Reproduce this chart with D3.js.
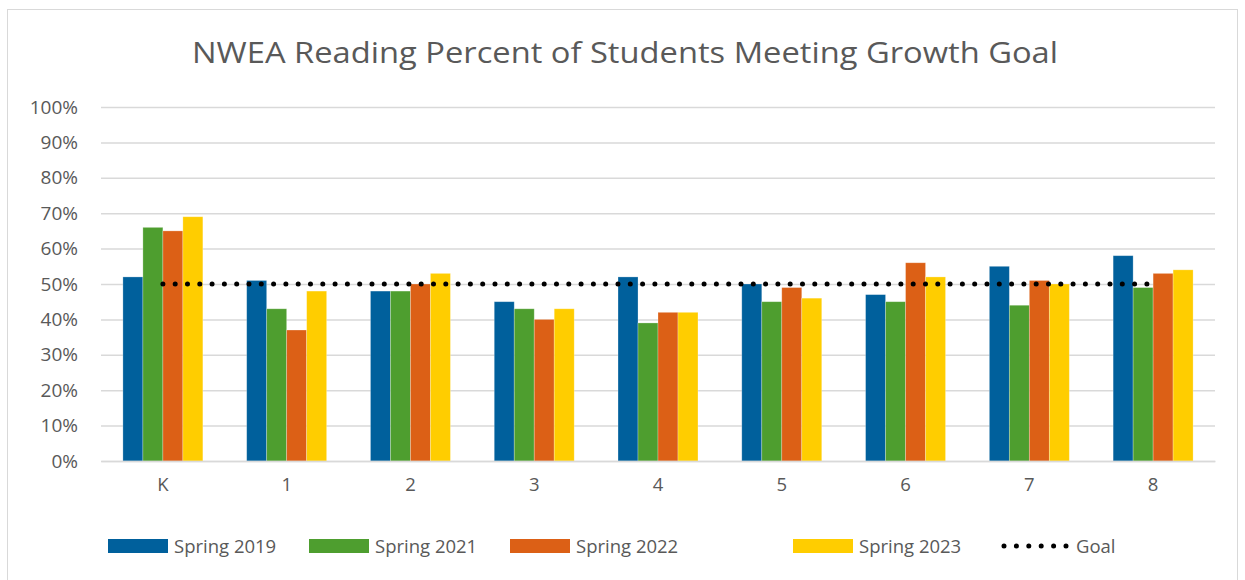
<!DOCTYPE html>
<html>
<head>
<meta charset="utf-8">
<script src="https://cdn.jsdelivr.net/npm/d3@7"></script>
<style>
	body { margin: 0; background: #fff; }
	text { font-family: "Open Sans", "Noto Sans", sans-serif; fill: #595959; }
</style>
</head>
<body>
<div id="chart"></div>
<script>

const grades = ["K", "1", "2", "3", "4", "5", "6", "7", "8"];
const seriesNames = ["Spring 2019", "Spring 2021", "Spring 2022", "Spring 2023"];
const spring2019 = [52, 51, 48, 45, 52, 50, 47, 55, 58];
const spring2021 = [66, 43, 48, 43, 39, 45, 45, 44, 49];
const spring2022 = [65, 37, 50, 40, 42, 49, 56, 51, 53];
const spring2023 = [69, 48, 53, 43, 42, 46, 52, 50, 54];
const goal = 50;
const yTicks = [0, 10, 20, 30, 40, 50, 60, 70, 80, 90, 100];

const colors = ["#00609c", "#4e9e2f", "#dc6016", "#ffcd00"];
const seriesValues = [spring2019, spring2021, spring2022, spring2023];

const width = 1245, height = 580;
const plot = { left: 101, right: 1215, top: 107, bottom: 461 };

const svg = d3.select("#chart")
		.append("svg")
		.attr("width", width)
		.attr("height", height);

// chart border
svg.append("rect")
		.attr("x", 7.5)
		.attr("y", 9.5)
		.attr("width", 1230)
		.attr("height", 620)
		.attr("fill", "none")
		.attr("stroke", "#d9d9d9")
		.attr("stroke-width", 1);

svg.append("text")
		.attr("x", 625)
		.attr("y", 63)
		.attr("text-anchor", "middle")
		.attr("font-size", 29.5)
		.attr("textLength", 866)
		.attr("lengthAdjust", "spacingAndGlyphs")
		.text("NWEA Reading Percent of Students Meeting Growth Goal");

const y = d3.scaleLinear()
		.domain([0, 100])
		.range([plot.bottom, plot.top]);

const x0 = d3.scaleBand()
		.domain(grades)
		.range([plot.left, plot.right])
		.paddingInner(0.354)
		.paddingOuter(0.177);

const x1 = d3.scaleBand()
		.domain(seriesNames)
		.range([0, x0.bandwidth()]);

// gridlines + y labels
const yAxis = svg.append("g")
		.attr("transform", "translate(" + plot.left + ",0)")
		.call(d3.axisLeft(y)
			.tickValues(yTicks)
			.tickSize(-(plot.right - plot.left))
			.tickPadding(23)
			.tickFormat((d) => d + "%"));

yAxis.select(".domain").remove();
yAxis.selectAll(".tick line")
		.attr("stroke", "#d9d9d9")
		.attr("stroke-width", 1.5);
yAxis.selectAll(".tick text")
		.attr("font-size", 19)
		.attr("fill", "#595959");

// bars
const groups = svg.append("g")
		.selectAll("g")
		.data(grades)
		.join("g")
		.attr("transform", (d) => "translate(" + x0(d) + ",0)");

groups.selectAll("rect")
		.data((d, i) => seriesNames.map((s, j) => ({ series: s, value: seriesValues[j][i], color: colors[j] })))
		.join("rect")
		.attr("x", (d) => x1(d.series))
		.attr("y", (d) => y(d.value))
		.attr("width", x1.bandwidth())
		.attr("height", (d) => y(0) - y(d.value))
		.attr("fill", (d) => d.color)
		.attr("stroke", "#ffffff")
		.attr("stroke-opacity", 0.35)
		.attr("stroke-width", 0.75);

// x axis
const xAxis = svg.append("g")
		.attr("transform", "translate(0," + plot.bottom + ")")
		.call(d3.axisBottom(x0).tickSize(0).tickPadding(17));

xAxis.select(".domain")
		.attr("stroke", "#d9d9d9")
		.attr("stroke-width", 1.5);
xAxis.selectAll(".tick text")
		.attr("font-size", 18.5)
		.attr("fill", "#595959");

// goal line
const goalLine = d3.line()
		.x((d) => x0(d) + x0.bandwidth() / 2)
		.y(() => y(goal));

svg.append("path")
		.attr("d", goalLine(grades))
		.attr("fill", "none")
		.attr("stroke", "#000")
		.attr("stroke-width", 5)
		.attr("stroke-linecap", "round")
		.attr("stroke-dasharray", "0 12.3");

// legend
const legendX = [108, 309, 510, 793];
const legend = svg.append("g");

seriesNames.forEach((name, i) => {
	legend.append("rect")
			.attr("x", legendX[i])
			.attr("y", 539)
			.attr("width", 60)
			.attr("height", 14)
			.attr("fill", colors[i]);

	legend.append("text")
			.attr("x", legendX[i] + 66)
			.attr("y", 553)
			.attr("font-size", 18.5)
			.text(name);
});

legend.append("path")
		.attr("d", "M1004,546H1066")
		.attr("stroke", "#000")
		.attr("stroke-width", 5)
		.attr("stroke-linecap", "round")
		.attr("stroke-dasharray", "0 12.4");

legend.append("text")
		.attr("x", 1076)
		.attr("y", 553)
		.attr("font-size", 18.5)
		.text("Goal");

</script>
</body>
</html>
